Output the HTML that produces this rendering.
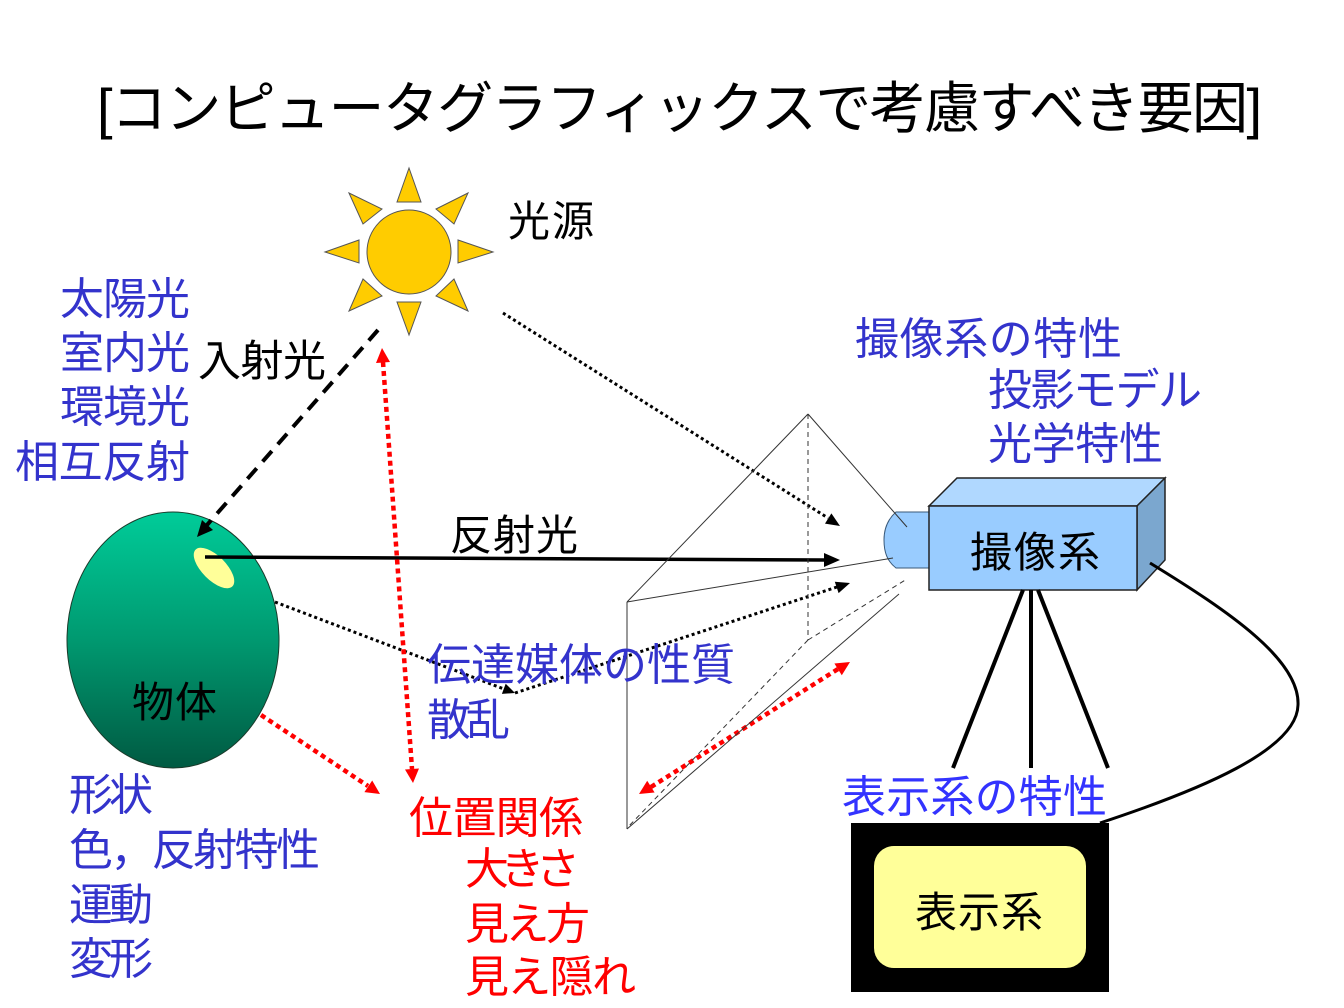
<!DOCTYPE html>
<html>
<head>
<meta charset="utf-8">
<style>
html,body{margin:0;padding:0;background:#fff;}
svg{display:block;}
text{font-family:"Liberation Sans","Noto Sans CJK JP",sans-serif;}
</style>
</head>
<body>
<svg width="1344" height="1008" viewBox="0 0 1344 1008" xmlns="http://www.w3.org/2000/svg">
<defs>
<linearGradient id="g" x1="0" y1="0" x2="0" y2="1">
<stop offset="0" stop-color="#00CC99"/>
<stop offset="0.5" stop-color="#009970"/>
<stop offset="1" stop-color="#005A42"/>
</linearGradient>
</defs>
<rect width="1344" height="1008" fill="#fff"/>

<!-- Title -->
<text x="97" y="128" font-size="56" fill="#000" textLength="1165">[コンピュータグラフィックスで考慮すべき要因]</text>

<!-- Sun -->
<g fill="#FFCC00" stroke="#555" stroke-width="1">
<polygon points="409,168 397,202 421,202"/>
<polygon points="409,335 397,302 421,302"/>
<polygon points="325,252 359,240 359,263"/>
<polygon points="493,252 458,240 458,263"/>
<polygon points="349,193 382,209 363,224"/>
<polygon points="468,193 436,209 454,224"/>
<polygon points="349,311 382,296 363,279"/>
<polygon points="468,311 436,296 454,279"/>
<circle cx="409" cy="252" r="42"/>
</g>
<text x="508" y="236" font-size="42" fill="#000" textLength="86">光源</text>

<!-- Left blue labels -->
<g fill="#3333CC" font-size="44">
<text x="60" y="314" textLength="130">太陽光</text>
<text x="60" y="368" textLength="130">室内光</text>
<text x="60" y="422" textLength="130">環境光</text>
<text x="15" y="477" textLength="175">相互反射</text>
</g>
<text x="198" y="376" font-size="43" fill="#000" textLength="128">入射光</text>

<!-- Object -->
<ellipse cx="173" cy="640" rx="106" ry="128" fill="url(#g)" stroke="#1a3a2a" stroke-width="1"/>
<ellipse cx="214" cy="568" rx="26" ry="12" transform="rotate(45 214 568)" fill="#FFFF99"/>
<text x="132" y="717" font-size="42" fill="#000" textLength="85">物体</text>

<!-- Incident dashed arrow -->
<line x1="378" y1="330" x2="207" y2="525" stroke="#000" stroke-width="4" stroke-dasharray="14 9"/>
<polygon points="197,537 213,530 202,520" fill="#000"/>

<!-- Reflected light arrow -->
<line x1="205" y1="557" x2="825" y2="560" stroke="#000" stroke-width="3.5"/>
<polygon points="840,560 824,553 824,567" fill="#000"/>
<text x="450" y="550" font-size="42" fill="#000" textLength="128">反射光</text>

<!-- Sun to camera dotted -->
<line x1="503" y1="313" x2="828" y2="518" stroke="#000" stroke-width="3" stroke-dasharray="3 3"/>
<polygon points="840,526 825,523.6 831.4,513.4" fill="#000"/>

<!-- Object scattering dotted -->
<line x1="275" y1="602" x2="504" y2="689" stroke="#000" stroke-width="3" stroke-dasharray="3 3"/>
<polygon points="515,693 501.9,693.9 505.7,683.7" fill="#000"/>
<line x1="515" y1="693" x2="837" y2="587" stroke="#000" stroke-width="3" stroke-dasharray="3 3"/>
<polygon points="850,583 838.6,593.1 834.8,581.7" fill="#000"/>

<!-- Red dotted arrows -->
<g stroke="#FF0000" stroke-width="4.5" stroke-dasharray="5 4" fill="none">
<line x1="383" y1="362" x2="412" y2="769"/>
<line x1="261" y1="715" x2="368" y2="786"/>
<line x1="651" y1="787" x2="838" y2="669"/>
</g>
<g fill="#FF0000">
<polygon points="382,348 390,362 376,363"/>
<polygon points="413,783 419,768.5 405,769.5"/>
<polygon points="380,794 364.4,792.1 372.2,780.5"/>
<polygon points="850,662 841.8,675.3 834.4,663.5"/>
<polygon points="639,794 654.6,792.5 647.2,780.7"/>
</g>

<!-- Camera -->
<path d="M929,512 L896,512 C887,520 884,530 884,540 C884,552 887,561 896,568 L929,568 Z" fill="#99CCFF" stroke="#3a5a7a" stroke-width="1"/>
<polygon points="929,506 957,478 1165,478 1137,506" fill="#B0D8FF" stroke="#222" stroke-width="1.5"/>
<polygon points="1137,506 1165,478 1165,560 1137,590" fill="#7BA7CF" stroke="#222" stroke-width="1.5"/>
<rect x="929" y="506" width="208" height="84" fill="#99CCFF" stroke="#222" stroke-width="1.5"/>
<text x="970" y="567" font-size="42" fill="#000" textLength="130">撮像系</text>

<!-- Frustum -->
<g stroke="#333" stroke-width="1" fill="none">
<line x1="808" y1="414" x2="627" y2="602"/>
<line x1="808" y1="414" x2="907" y2="527"/>
<line x1="627" y1="602" x2="627" y2="829"/>
<line x1="627" y1="602" x2="893" y2="558"/>
<line x1="627" y1="829" x2="899" y2="594"/>
</g>
<g stroke="#333" stroke-width="1" fill="none" stroke-dasharray="5 4">
<line x1="808" y1="414" x2="808" y2="640"/>
<line x1="808" y1="640" x2="907" y2="579"/>
<line x1="808" y1="640" x2="627" y2="828"/>
</g>

<!-- Camera characteristics -->
<g fill="#3333CC" font-size="44">
<text x="855" y="354" textLength="267">撮像系の特性</text>
<text x="988" y="405" textLength="214">投影モデル</text>
<text x="988" y="459" textLength="175">光学特性</text>
</g>

<!-- Medium -->
<g fill="#3333CC" font-size="44">
<text x="427" y="680" textLength="308">伝達媒体の性質</text>
<text x="427" y="735" textLength="83">散乱</text>
</g>

<!-- Position relation (red) -->
<g fill="#FF0000" font-size="44">
<text x="409" y="833" textLength="174">位置関係</text>
<text x="465" y="884" textLength="115">大きさ</text>
<text x="465" y="939" textLength="125">見え方</text>
<text x="465" y="992" textLength="171">見え隠れ</text>
</g>

<!-- Object properties -->
<g fill="#3333CC" font-size="44">
<text x="69" y="810" textLength="84">形状</text>
<text x="69" y="865" textLength="251">色，反射特性</text>
<text x="69" y="920" textLength="84">運動</text>
<text x="69" y="974" textLength="84">変形</text>
</g>

<!-- Legs and cable -->
<g stroke="#000" stroke-width="4" fill="none">
<line x1="1023" y1="590" x2="953" y2="768"/>
<line x1="1031" y1="590" x2="1031" y2="768"/>
<line x1="1038" y1="590" x2="1108" y2="768"/>
</g>
<path d="M1150,563 C1230,612 1300,660 1298,705 C1297,750 1200,790 1100,823" stroke="#000" stroke-width="3" fill="none"/>

<!-- Display -->
<text x="842" y="812" font-size="44" fill="#3333FF" textLength="265">表示系の特性</text>
<rect x="851" y="823" width="258" height="169" fill="#000"/>
<rect x="874" y="846" width="212" height="122" rx="20" ry="20" fill="#FFFF99"/>
<text x="915" y="927" font-size="42" fill="#000" textLength="128">表示系</text>
</svg>
</body>
</html>
